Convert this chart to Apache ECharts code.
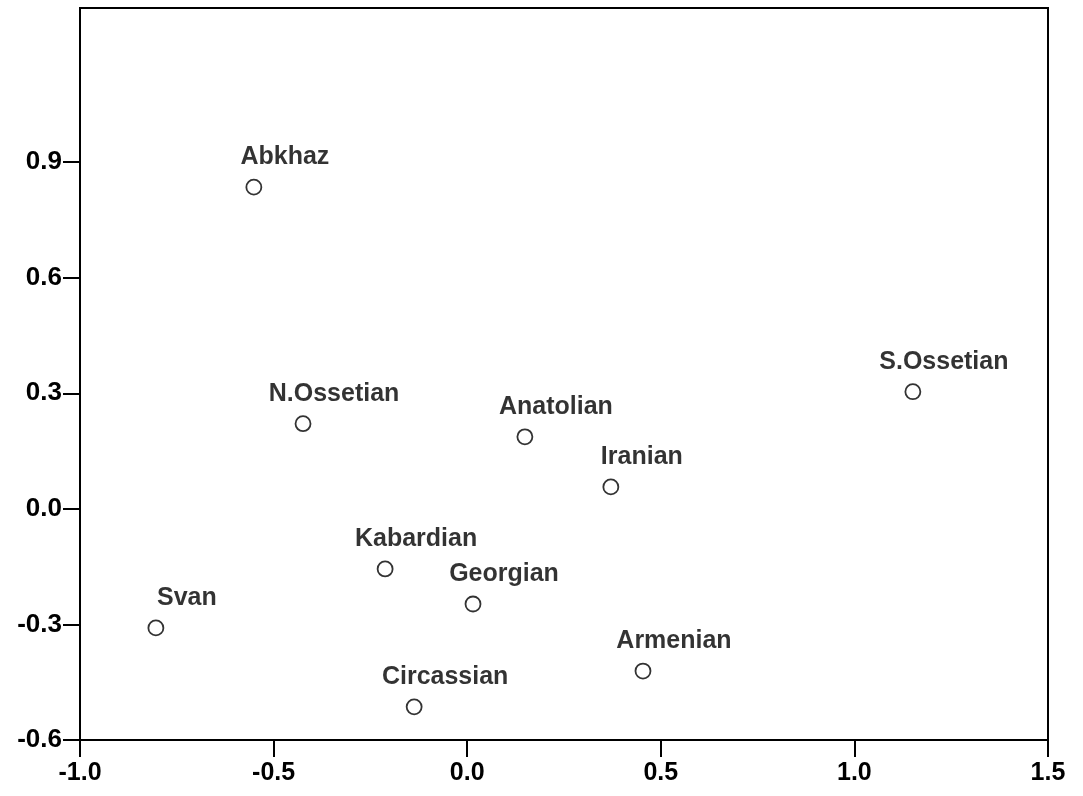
<!DOCTYPE html>
<html>
<head>
<meta charset="utf-8">
<script src="https://cdn.jsdelivr.net/npm/echarts@6/dist/echarts.min.js"></script>
<style>
  html, body { margin: 0; padding: 0; background: #fff; }
  #main { width: 1083px; height: 796px; }
</style>
</head>
<body>
<div id="main"></div>
<script>
// point names and coordinates
var names = ['Abkhaz', 'N.Ossetian', 'Anatolian', 'Iranian', 'S.Ossetian',
             'Kabardian', 'Georgian', 'Svan', 'Armenian', 'Circassian'];
var xVals = [-0.551, -0.424, 0.149, 0.371, 1.151, -0.212, 0.015, -0.804, 0.454, -0.137];
var yVals = [0.835, 0.221, 0.187, 0.057, 0.304, -0.156, -0.247, -0.309, -0.421, -0.514];

var xTicks = [-1.0, -0.5, 0.0, 0.5, 1.0, 1.5];
var yTicks = [-0.6, -0.3, 0.0, 0.3, 0.6, 0.9];

var points = names.map(function (n, i) {
  return { name: n, value: [xVals[i], yVals[i]] };
});

var font = '"Liberation Sans", Arial, sans-serif';

var chart = echarts.init(document.getElementById('main'));
chart.setOption({
  animation: false,
  backgroundColor: '#fff',
  grid: {
    left: 80, right: 35, top: 8, bottom: 56,
    show: true,
    borderColor: '#000',
    borderWidth: 2,
    containLabel: false
  },
  xAxis: {
    type: 'value',
    min: -1.0,
    max: 1.5,
    splitLine: { show: false },
    axisLine: { show: true, onZero: false, lineStyle: { color: '#000', width: 2 } },
    axisTick: { show: true, length: 17, customValues: xTicks, lineStyle: { color: '#000', width: 2 } },
    axisLabel: {
      customValues: xTicks,
      margin: 21,
      color: '#000',
      fontFamily: font,
      fontWeight: 'bold',
      fontSize: 25,
      formatter: function (v) { return v.toFixed(1); }
    }
  },
  yAxis: {
    type: 'value',
    min: -0.6,
    max: 1.3,
    splitLine: { show: false },
    axisLine: { show: true, onZero: false, lineStyle: { color: '#000', width: 2 } },
    axisTick: { show: true, length: 17, customValues: yTicks, lineStyle: { color: '#000', width: 2 } },
    axisLabel: {
      customValues: yTicks,
      margin: 18,
      color: '#000',
      fontFamily: font,
      fontWeight: 'bold',
      fontSize: 26,
      formatter: function (v) { return v.toFixed(1); }
    }
  },
  series: [{
    type: 'scatter',
    symbol: 'circle',
    symbolSize: 15,
    itemStyle: { color: '#fff', borderColor: '#000', borderWidth: 1.8 },
    label: {
      show: true,
      position: 'top',
      distance: 9,
      offset: [31, 0],
      formatter: '{b}',
      color: '#000',
      fontFamily: font,
      fontWeight: 'bold',
      fontSize: 25
    },
    data: points
  }]
});
</script>
</body>
</html>
